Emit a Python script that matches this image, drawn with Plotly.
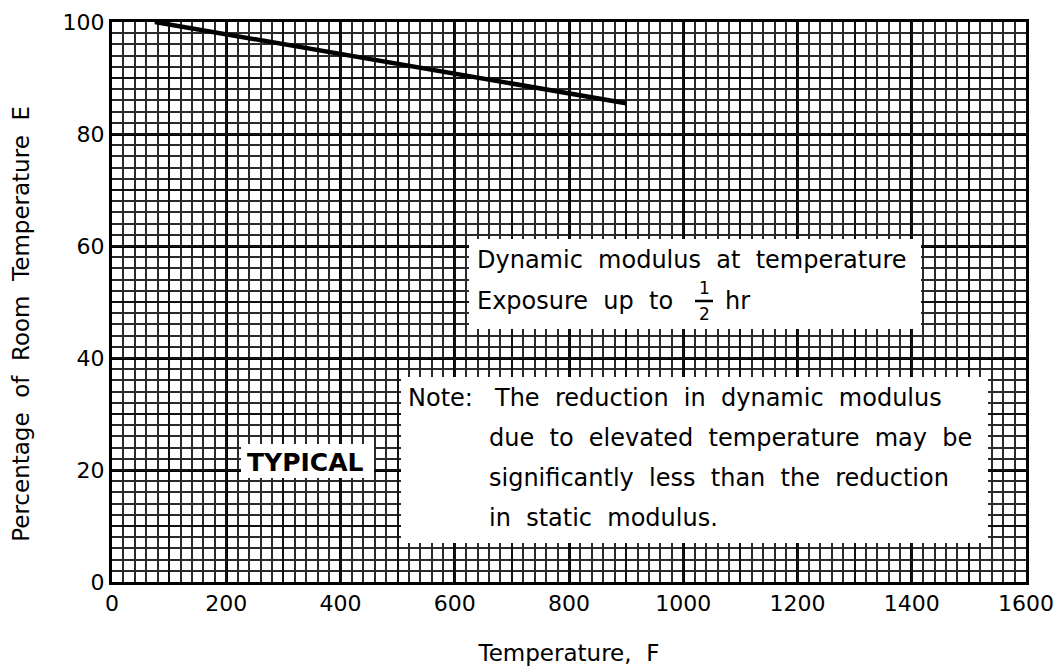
import plotly.graph_objects as go

# ---- data ----
temperature_F = [75, 200, 400, 600, 800, 900]
pct_room_temp_E = [100, 97.8, 94.3, 90.8, 87.3, 85.5]
x_tick_vals = [0, 200, 400, 600, 800, 1000, 1200, 1400, 1600]
y_tick_vals = [0, 20, 40, 60, 80, 100]

# ---- pixel helpers for placing layout items (page pixels of reference) ----
L, R, T, B = 111, 1025, 21, 581
OFF = 7  # page body margin compensation
def px_x(p):
    return (p - L) / (R - L) * 1600
def px_y(p):
    return (B - p) / (B - T) * 100

FONT = "DejaVu Sans"
fig = go.Figure()
fig.add_trace(go.Scatter(x=temperature_F, y=pct_room_temp_E, mode="lines",
                         line=dict(color="black", width=4.5), showlegend=False,
                         hoverinfo="skip"))

# medium grid via overlay axes
fig.add_trace(go.Scatter(x=[0], y=[0], xaxis="x2", yaxis="y2", mode="markers",
                         marker=dict(opacity=0), showlegend=False, hoverinfo="skip"))

W, H = 1063, 671
fig.update_layout(
    width=W, height=H,
    margin=dict(l=L - OFF, r=W - (R - OFF), t=T - OFF, b=H - (B - OFF), autoexpand=False),
    paper_bgcolor="white", plot_bgcolor="white",
    font=dict(family=FONT, color="black", size=22),
    xaxis=dict(range=[0, 1600], tickvals=x_tick_vals, ticks="", showline=True,
               linecolor="black", linewidth=3, mirror=True, automargin=False,
               showgrid=True, gridcolor="black", gridwidth=2.6,
               minor=dict(dtick=20, showgrid=True, gridcolor="#2a2a2a", gridwidth=1.7),
               zeroline=False, tickfont=dict(size=22),
               title=dict(text="Temperature,  F", font=dict(size=23), standoff=30)),
    yaxis=dict(range=[0, 100], tickvals=y_tick_vals, ticks="", showline=True,
               linecolor="black", linewidth=3, mirror=True, automargin=False,
               showgrid=True, gridcolor="black", gridwidth=2.6,
               minor=dict(dtick=2, showgrid=True, gridcolor="#2a2a2a", gridwidth=1.7),
               zeroline=False, tickfont=dict(size=22),
               title=dict(text="Percentage  of  Room  Temperature  E" + "&nbsp;" * 6,
                          font=dict(size=23), standoff=38)),
    xaxis2=dict(range=[0, 1600], overlaying="x", dtick=100, showgrid=True, automargin=False,
                gridcolor="#111", gridwidth=2, showticklabels=False, zeroline=False),
    yaxis2=dict(range=[0, 100], overlaying="y", dtick=10, showgrid=True, automargin=False,
                gridcolor="#111", gridwidth=2, showticklabels=False, zeroline=False),
)

# white boxes covering the grid
boxes = [(468, 238, 920, 328), (400, 376, 987, 542), (240, 443, 373, 477)]
for x0, y0, x1, y1 in boxes:
    fig.add_shape(type="rect", xref="x", yref="y", x0=px_x(x0), x1=px_x(x1),
                  y0=px_y(y0), y1=px_y(y1), fillcolor="white",
                  line=dict(width=0), layer="above")

def txt(text, xp, yp, size=24, anchor="left"):
    fig.add_annotation(text=text, x=px_x(xp), y=px_y(yp), xref="x", yref="y",
                       xanchor=anchor, yanchor="middle", showarrow=False,
                       font=dict(family=FONT, size=size, color="black"))

txt("Dynamic  modulus  at  temperature", 474, 259)
txt("Exposure  up  to", 474, 300)
txt("1", 703, 287, size=17, anchor="center")
txt("2", 703, 313, size=17, anchor="center")
fig.add_shape(type="line", xref="x", yref="y", x0=px_x(694), x1=px_x(712),
              y0=px_y(300), y1=px_y(300), line=dict(color="black", width=2.5),
              layer="above")
txt("hr", 722, 300)

txt("Note:", 405, 397)
txt("The  reduction  in  dynamic  modulus", 491, 397)
txt("due  to  elevated  temperature  may  be", 486, 437)
txt("significantly  less  than  the  reduction", 486, 477)
txt("in  static  modulus.", 486, 517)

txt("<b>TYPICAL</b>", 244, 461, size=25)

fig.write_html("out.html")
